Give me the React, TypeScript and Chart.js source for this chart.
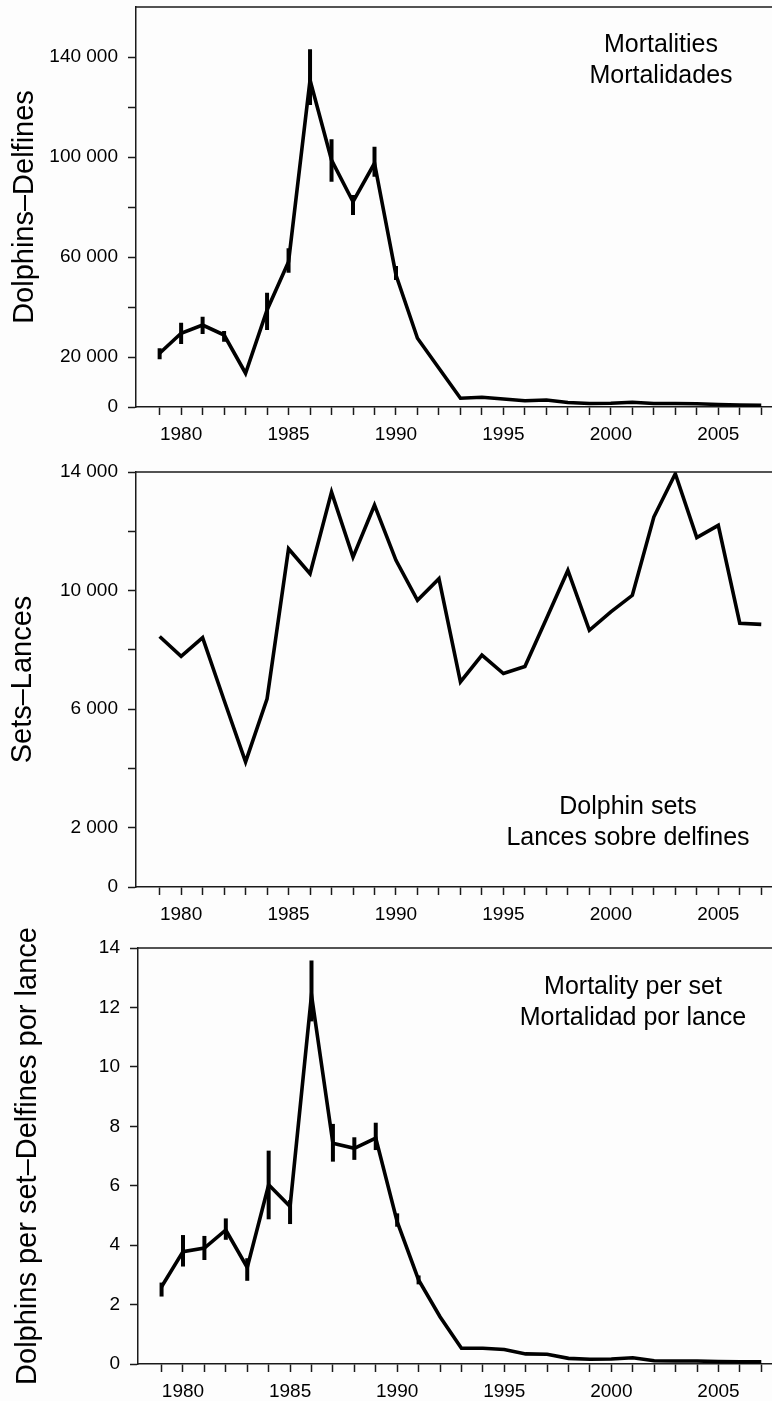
import React, { useEffect, useRef } from 'react';
import { Chart, registerables } from 'chart.js';

Chart.register(...registerables);

// ---------- data ----------
const years = [
  1979, 1980, 1981, 1982, 1983, 1984, 1985, 1986, 1987, 1988,
  1989, 1990, 1991, 1992, 1993, 1994, 1995, 1996, 1997, 1998,
  1999, 2000, 2001, 2002, 2003, 2004, 2005, 2006, 2007,
];
const xLabelYears = [1980, 1985, 1990, 1995, 2000, 2005];

// Panel 1: dolphin mortalities
const mortality = [
  21500, 29500, 32800, 28800, 13500, 38800, 58100, 130800, 98800, 82100,
  97500, 52800, 27500, 15500, 3500, 3900, 3200, 2500, 2800, 1800,
  1400, 1500, 1900, 1400, 1400, 1300, 1000, 800, 700,
];
const mortalityLow = [
  19100, 25200, 29200, 26100, null, 30800, 53700, 120800, 90100, 76800,
  92100, 50800, null, null, null, null, null, null, null, null,
  null, null, null, null, null, null, null, null, null,
];
const mortalityHigh = [
  23500, 33700, 36100, 30400, null, 45700, 63500, 143100, 107100, 84800,
  104100, 56400, null, null, null, null, null, null, null, null,
  null, null, null, null, null, null, null, null, null,
];
const mortalityTicks = [0, 20000, 40000, 60000, 80000, 100000, 120000, 140000];
const mortalityLabeled = [0, 20000, 60000, 100000, 140000];
const mortalityTitle = 'Dolphins–Delfines';
const mortalityNote = ['Mortalities', 'Mortalidades'];

// Panel 2: dolphin sets
const sets = [
  8450, 7780, 8410, 6300, 4220, 6350, 11410, 10570, 13320, 11130,
  12880, 11020, 9670, 10400, 6920, 7820, 7200, 7440, 9050, 10680,
  8660, 9280, 9840, 12480, 13940, 11790, 12200, 8900, 8860,
];
const setsTicks = [0, 2000, 4000, 6000, 8000, 10000, 12000, 14000];
const setsLabeled = [0, 2000, 6000, 10000, 14000];
const setsTitle = 'Sets–Lances';
const setsNote = ['Dolphin sets', 'Lances sobre delfines'];

// Panel 3: mortality per set
const perSet = [
  2.6, 3.78, 3.9, 4.51, 3.25, 6.03, 5.3, 12.42, 7.43, 7.26,
  7.6, 4.79, 2.83, 1.59, 0.53, 0.53, 0.49, 0.34, 0.33, 0.19,
  0.16, 0.17, 0.21, 0.11, 0.1, 0.1, 0.08, 0.07, 0.07,
];
const perSetLow = [
  2.27, 3.28, 3.5, 4.18, 2.8, 4.87, 4.71, 11.53, 6.81, 6.87,
  7.2, 4.62, 2.68, null, null, null, null, null, null, null,
  null, null, null, null, null, null, null, null, null,
];
const perSetHigh = [
  2.74, 4.34, 4.31, 4.9, 3.56, 7.18, 5.52, 13.58, 8.08, 7.63,
  8.12, 5.07, 2.98, null, null, null, null, null, null, null,
  null, null, null, null, null, null, null, null, null,
];
const perSetTicks = [0, 2, 4, 6, 8, 10, 12, 14];
const perSetLabeled = [0, 2, 4, 6, 8, 10, 12, 14];
const perSetTitle = 'Dolphins per set–Delfines por lance';
const perSetNote = ['Mortality per set', 'Mortalidad por lance'];

// ---------- styling ----------
const W = 772;
const H = 1401;
const FAMILY = '"Liberation Sans", Arial, Helvetica, sans-serif';
const AXIS = '#1a1a1a';
const X_MIN = 1977.9;
const X_MAX = 2007.5;
const X_AXIS_H = 45;

function fmtThousands(v: number): string {
  if (v < 1000) return String(v);
  const th = Math.floor(v / 1000);
  const rest = String(v % 1000).padStart(3, '0');
  return `${th} ${rest}`;
}

type PanelCfg = {
  values: number[];
  low?: (number | null)[];
  high?: (number | null)[];
  yMax: number;
  yTicks: number[];
  yLabeled: number[];
  title: string;
  note: string[];
  area: { left: number; top: number; bottom: number };
  titleOffset: number;
  noteX: number;
  noteY: number;
};

function makeDecor(cfg: PanelCfg) {
  return {
    id: 'decor',
    afterDatasetsDraw(chart: any) {
      const { ctx, chartArea, scales } = chart;
      ctx.save();
      // error bars
      if (cfg.low && cfg.high) {
        ctx.strokeStyle = '#000';
        ctx.lineWidth = 4;
        ctx.lineCap = 'butt';
        cfg.low.forEach((lo, i) => {
          const hi = cfg.high![i];
          if (lo == null || hi == null) return;
          const x = scales.x.getPixelForValue(years[i]);
          ctx.beginPath();
          ctx.moveTo(x, scales.y.getPixelForValue(lo));
          ctx.lineTo(x, scales.y.getPixelForValue(hi));
          ctx.stroke();
        });
      }
      // top frame line
      ctx.strokeStyle = AXIS;
      ctx.lineWidth = 1.5;
      ctx.beginPath();
      ctx.moveTo(chartArea.left, chartArea.top);
      ctx.lineTo(chartArea.right, chartArea.top);
      ctx.stroke();
      // annotation text
      ctx.fillStyle = '#000';
      ctx.font = `25px ${FAMILY}`;
      ctx.textAlign = 'center';
      ctx.textBaseline = 'middle';
      cfg.note.forEach((t, i) => ctx.fillText(t, cfg.noteX, cfg.noteY + i * 31));
      ctx.restore();
    },
  };
}

function buildChart(canvas: HTMLCanvasElement, cfg: PanelCfg) {
  const tickFont = { size: 19, family: FAMILY };
  const grid = {
    drawOnChartArea: false,
    drawTicks: true,
    tickLength: 8,
    tickWidth: 1.5,
    tickColor: AXIS,
  };
  const border = { display: true, color: AXIS, width: 1.5 };
  return new Chart(canvas, {
    type: 'line',
    data: {
      datasets: [
        {
          data: years.map((yr, i) => ({ x: yr, y: cfg.values[i] })),
          borderColor: '#000',
          borderWidth: 3.6,
          pointRadius: 0,
          tension: 0,
          borderJoinStyle: 'miter',
          fill: false,
        },
      ],
    },
    options: {
      responsive: false,
      animation: false,
      devicePixelRatio: 1,
      events: [],
      layout: {
        padding: {
          top: cfg.area.top,
          left: 0,
          right: 0,
          bottom: H - cfg.area.bottom - X_AXIS_H,
        },
      },
      plugins: {
        legend: { display: false },
        tooltip: { enabled: false },
        title: { display: false },
      },
      scales: {
        x: {
          type: 'linear',
          min: X_MIN,
          max: X_MAX,
          afterBuildTicks: (s: any) => {
            s.ticks = years.map((v) => ({ value: v }));
          },
          afterFit: (s: any) => {
            s.height = X_AXIS_H;
            s.paddingLeft = 0;
            s.paddingRight = 0;
          },
          ticks: {
            autoSkip: false,
            maxRotation: 0,
            minRotation: 0,
            padding: 8,
            color: '#000',
            font: tickFont,
            callback: (v: any) => (xLabelYears.includes(Number(v)) ? String(v) : ''),
          },
          grid,
          border,
        },
        y: {
          type: 'linear',
          min: 0,
          max: cfg.yMax,
          afterBuildTicks: (s: any) => {
            s.ticks = cfg.yTicks.map((v) => ({ value: v }));
          },
          afterFit: (s: any) => {
            s.width = cfg.area.left;
            s.paddingTop = 0;
            s.paddingBottom = 0;
          },
          ticks: {
            autoSkip: false,
            padding: 10,
            color: '#000',
            font: tickFont,
            callback: (v: any) => (cfg.yLabeled.includes(Number(v)) ? fmtThousands(Number(v)) : ''),
          },
          grid,
          border,
          title: {
            display: true,
            text: cfg.title,
            color: '#000',
            font: { size: 29, family: FAMILY },
            padding: { top: cfg.titleOffset, bottom: 0 },
          },
        },
      },
    },
    plugins: [makeDecor(cfg)],
  } as any);
}

const panels: PanelCfg[] = [
  {
    values: mortality,
    low: mortalityLow,
    high: mortalityHigh,
    yMax: 160000,
    yTicks: mortalityTicks,
    yLabeled: mortalityLabeled,
    title: mortalityTitle,
    note: mortalityNote,
    area: { left: 136, top: 7, bottom: 407 },
    titleOffset: 7.6,
    noteX: 661,
    noteY: 45,
  },
  {
    values: sets,
    yMax: 14000,
    yTicks: setsTicks,
    yLabeled: setsLabeled,
    title: setsTitle,
    note: setsNote,
    area: { left: 136, top: 472, bottom: 887 },
    titleOffset: 6,
    noteX: 628,
    noteY: 807,
  },
  {
    values: perSet,
    low: perSetLow,
    high: perSetHigh,
    yMax: 14,
    yTicks: perSetTicks,
    yLabeled: perSetLabeled,
    title: perSetTitle,
    note: perSetNote,
    area: { left: 138, top: 948, bottom: 1364 },
    titleOffset: 10.9,
    noteX: 633,
    noteY: 987,
  },
];

export default function App() {
  const refs = [
    useRef<HTMLCanvasElement>(null),
    useRef<HTMLCanvasElement>(null),
    useRef<HTMLCanvasElement>(null),
  ];
  useEffect(() => {
    const charts = panels.map((p, i) => buildChart(refs[i].current!, p));
    return () => charts.forEach((c) => c.destroy());
  }, []);
  return (
    <div
      style={{
        position: 'absolute',
        left: 0,
        top: 0,
        width: W,
        height: H,
        background: '#fdfdfd',
        overflow: 'hidden',
      }}
    >
      {refs.map((r, i) => (
        <canvas
          key={i}
          ref={r}
          width={W}
          height={H}
          style={{ position: 'absolute', left: 0, top: 0, width: W, height: H, display: 'block' }}
        />
      ))}
    </div>
  );
}
